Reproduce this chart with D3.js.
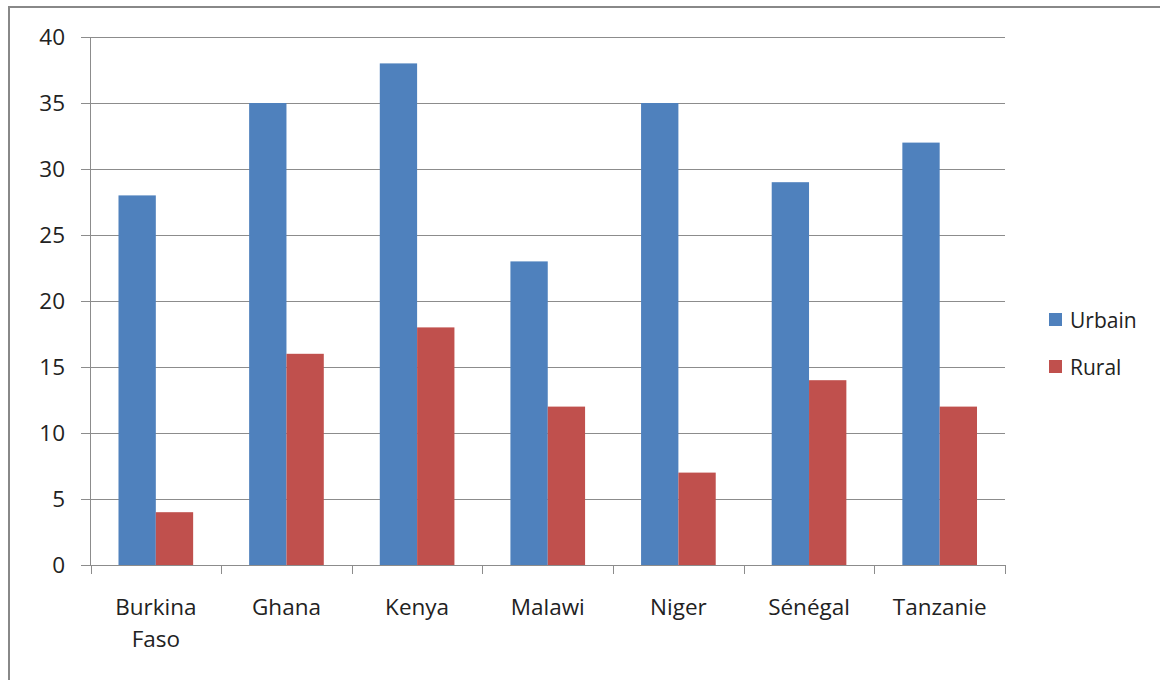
<!DOCTYPE html>
<html><head><meta charset="utf-8">
<script src="https://cdn.jsdelivr.net/npm/d3@7/dist/d3.min.js"></script>
<style>body{margin:0;background:#fff}svg{display:block}text{font-family:"Open Sans","Noto Sans",sans-serif;fill:#222}</style>
</head><body><svg id="c" width="1160" height="680"></svg>
<script>
const categories = ["Burkina Faso","Ghana","Kenya","Malawi","Niger","Sénégal","Tanzanie"];
const urbain = [28,35,38,23,35,29,32];
const rural = [4,16,18,12,7,14,12];
const seriesNames = ["Urbain","Rural"];
const seriesColors = ["#4F81BD","#C0504D"];
const yTicks = [0,5,10,15,20,25,30,35,40];

const svg = d3.select("#c");
// outer border
svg.append("rect").attr("x",9).attr("y",7).attr("width",1160).attr("height",700)
  .attr("fill","none").attr("stroke","#888").attr("stroke-width",2);

const L=90.5, R=1005, T=37, B=565;
const x = d3.scaleBand().domain(categories).range([L,R]).paddingInner(0).paddingOuter(0);
const y = d3.scaleLinear().domain([0,40]).range([B,T]);

// grid
svg.append("g").selectAll("line").data(yTicks).join("line")
  .attr("x1",81).attr("x2",R).attr("y1",d=>Math.round(y(d))+0.5).attr("y2",d=>Math.round(y(d))+0.5)
  .attr("stroke","#8c8c8c").attr("stroke-width",1);
// y labels
svg.append("g").selectAll("text").data(yTicks).join("text")
  .attr("x",65).attr("y",d=>y(d)+8).attr("text-anchor","end").attr("font-size",22.5).text(d=>d);
// y axis line
svg.append("line").attr("x1",L).attr("x2",L).attr("y1",T).attr("y2",B).attr("stroke","#8c8c8c");
// x ticks
const bounds = categories.map(c=>x(c)).concat([R]);
svg.append("g").selectAll("line").data(bounds).join("line")
  .attr("x1",d=>Math.round(d)+0.5).attr("x2",d=>Math.round(d)+0.5).attr("y1",B).attr("y2",B+9)
  .attr("stroke","#8c8c8c");

// bars
const sub = d3.scaleBand().domain(seriesNames).range([0,x.bandwidth()]).paddingOuter(0.75).paddingInner(0);
const data = [urbain, rural];
seriesNames.forEach((s,si)=>{
  svg.append("g").selectAll("rect").data(categories).join("rect")
    .attr("x",(c)=>x(c)+sub(s)).attr("width",sub.bandwidth())
    .attr("y",(c,i)=>y(data[si][i])).attr("height",(c,i)=>B-y(data[si][i]))
    .attr("fill",seriesColors[si]);
});
// redraw baseline
svg.append("line").attr("x1",81).attr("x2",R).attr("y1",B+0.5).attr("y2",B+0.5).attr("stroke","#8c8c8c");

// category labels
const cl = svg.append("g").selectAll("text").data(categories).join("text")
  .attr("x",c=>x(c)+x.bandwidth()/2).attr("y",615).attr("text-anchor","middle").attr("font-size",22.5);
cl.each(function(c){
  const t = d3.select(this);
  if(c==="Burkina Faso"){
    t.append("tspan").attr("x",x(c)+x.bandwidth()/2).attr("dy",0).text("Burkina");
    t.append("tspan").attr("x",x(c)+x.bandwidth()/2).attr("dy",32).text("Faso");
  } else t.text(c);
});

// legend
const lg = svg.append("g");
seriesNames.forEach((s,i)=>{
  lg.append("rect").attr("x",1049).attr("y",313+i*47).attr("width",13).attr("height",13).attr("fill",seriesColors[i]);
  lg.append("text").attr("x",1070).attr("y",328+i*47).attr("font-size",21).text(s);
});
</script></body></html>
